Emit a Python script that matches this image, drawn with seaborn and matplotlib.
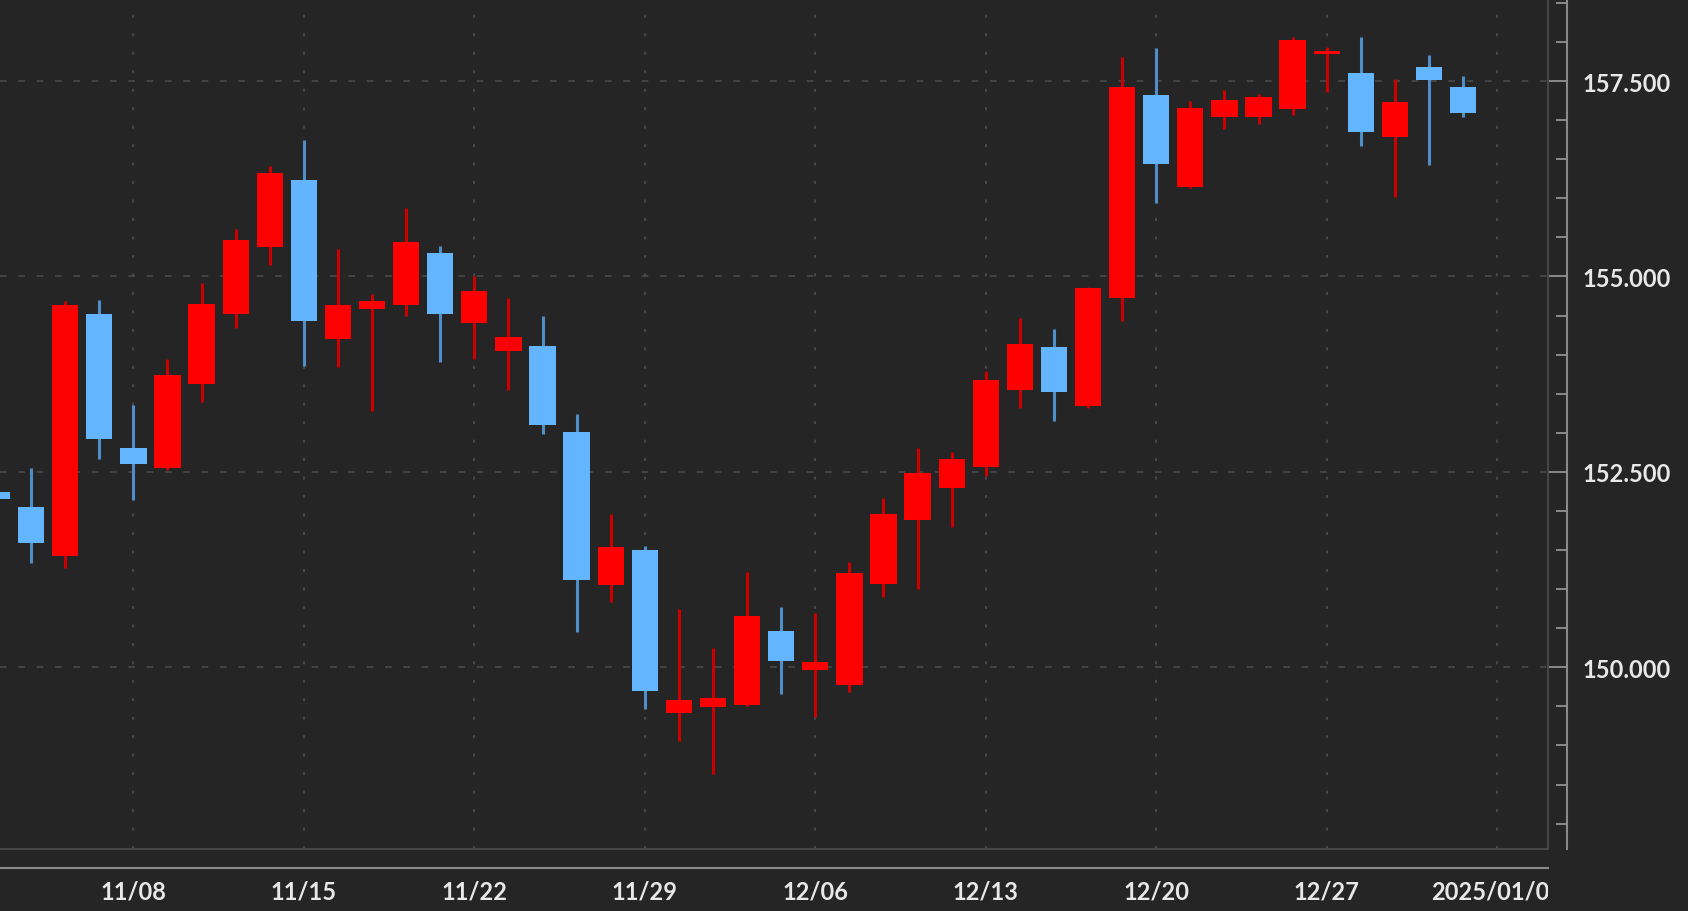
#!/usr/bin/env python3
'''
Daily candlestick chart (USD/JPY style), red = up day, blue = down day.
'''

import matplotlib
matplotlib.use('Agg')
import matplotlib.ticker as mticker
from matplotlib import pyplot as plt
from matplotlib.transforms import Bbox, TransformedBbox
import seaborn as sb
import pandas as pd

# trading days shown (weekdays only)
dates = [
    '2024-11-04', '2024-11-05', '2024-11-06', '2024-11-07', '2024-11-08',
    '2024-11-11', '2024-11-12', '2024-11-13', '2024-11-14', '2024-11-15',
    '2024-11-18', '2024-11-19', '2024-11-20', '2024-11-21', '2024-11-22',
    '2024-11-25', '2024-11-26', '2024-11-27', '2024-11-28', '2024-11-29',
    '2024-12-02', '2024-12-03', '2024-12-04', '2024-12-05', '2024-12-06',
    '2024-12-09', '2024-12-10', '2024-12-11', '2024-12-12', '2024-12-13',
    '2024-12-16', '2024-12-17', '2024-12-18', '2024-12-19', '2024-12-20',
    '2024-12-23', '2024-12-24', '2024-12-25', '2024-12-26', '2024-12-27',
    '2024-12-30', '2024-12-31', '2025-01-01', '2025-01-02',
]
opens = [
    152.24, 152.05, 151.43, 154.52, 152.80,
    152.55, 153.62, 154.52, 155.38, 156.24,
    154.20, 154.58, 154.64, 155.30, 154.41,
    154.05, 154.11, 153.01, 151.05, 151.50,
    149.41, 149.49, 149.52, 150.46, 149.96,
    149.77, 151.07, 151.89, 152.30, 152.56,
    153.55, 154.10, 153.34, 154.73, 157.32,
    156.15, 157.04, 157.04, 157.14, 157.84,
    157.60, 156.79, 157.68, 157.43,
]
highs = [
    152.30, 152.55, 154.68, 154.70, 153.36,
    153.94, 154.92, 155.61, 156.41, 156.75,
    155.35, 154.78, 155.87, 155.39, 155.00,
    154.72, 154.49, 153.24, 151.96, 151.55,
    150.75, 150.25, 151.22, 150.77, 150.70,
    151.35, 152.17, 152.81, 152.76, 153.79,
    154.47, 154.33, 154.86, 157.81, 157.92,
    157.25, 157.38, 157.34, 158.07, 157.94,
    158.07, 157.53, 157.83, 157.56,
]
lows = [
    152.10, 151.33, 151.27, 152.67, 152.14,
    152.53, 153.40, 154.34, 155.15, 153.85,
    153.84, 153.28, 154.49, 153.90, 153.94,
    153.55, 152.98, 150.45, 150.83, 149.46,
    149.06, 148.64, 149.50, 149.66, 149.36,
    149.69, 150.90, 151.00, 151.80, 152.45,
    153.32, 153.15, 153.32, 154.43, 155.94,
    156.13, 156.89, 156.95, 157.06, 157.36,
    156.67, 156.02, 156.43, 157.04,
]
closes = [
    152.15, 151.59, 154.64, 152.92, 152.60,
    153.74, 154.65, 155.47, 156.32, 154.43,
    154.64, 154.68, 155.44, 154.52, 154.81,
    154.23, 153.10, 151.12, 151.54, 149.70,
    149.58, 149.61, 150.65, 150.08, 150.07,
    151.21, 151.96, 152.49, 152.66, 153.68,
    154.14, 153.52, 154.85, 157.43, 156.44,
    157.16, 157.26, 157.30, 158.03, 157.88,
    156.85, 157.23, 157.52, 157.09,
]

# weekly labels (Fridays) and price labels
week_labels = ['11/08', '11/15', '11/22', '11/29', '12/06',
               '12/13', '12/20', '12/27', '2025/01/03']
price_ticks = [150.0, 152.5, 155.0, 157.5]

BG = '#252525'
UP_BODY, UP_WICK = '#ff0000', '#cc0000'
DOWN_BODY, DOWN_WICK = '#63b5ff', '#4f8fc9'
AXIS_COLOR = '#8a8a8a'
GRID_COLOR = '#4a4a4a'
TEXT_COLOR = '#e8e8e8'


def main():
    sb.set_theme(style='dark', rc={
        'axes.facecolor': BG,
        'figure.facecolor': BG,
        'savefig.facecolor': BG,
    })
    plt.rcParams['font.family'] = ['Lato', 'DejaVu Sans']

    # x axis is a trading-day index, weekends skipped
    calendar = pd.bdate_range('2024-11-04', '2025-01-03')
    df = pd.DataFrame({'date': pd.to_datetime(dates), 'open': opens,
                       'high': highs, 'low': lows, 'close': closes})
    df['pos'] = calendar.get_indexer(df['date'])
    df['up'] = df['close'] >= df['open']
    df['bottom'] = df[['open', 'close']].min(axis=1)
    df['height'] = (df['close'] - df['open']).abs()

    fig = plt.figure(figsize=(16.88, 9.12), dpi=100)
    ax = fig.add_axes([0, 62 / 912, 1548 / 1688, 850 / 912])

    # wicks then bodies
    ax.vlines(df['pos'], df['low'], df['high'],
              colors=[UP_WICK if u else DOWN_WICK for u in df['up']],
              linewidth=2.2, zorder=2)
    ax.bar(df['pos'], df['height'], bottom=df['bottom'], width=0.77,
           color=[UP_BODY if u else DOWN_BODY for u in df['up']],
           linewidth=0, zorder=3)

    ax.set_xlim(0.088, 45.49)
    ax.set_ylim(147.675, 158.55)

    fridays = [i for i, d in enumerate(calendar) if d.weekday() == 4]
    ax.set_xticks(fridays)
    ax.set_xticklabels(week_labels)
    ax.xaxis.set_minor_locator(mticker.FixedLocator(range(len(calendar) + 1)))
    ax.set_yticks(price_ticks)
    ax.yaxis.set_major_formatter(mticker.StrMethodFormatter('{x:.3f}'))
    ax.yaxis.set_minor_locator(mticker.MultipleLocator(0.5))

    # separate axis lines sitting outside the plot frame
    sb.despine(ax=ax, left=True, top=True, right=False, bottom=False, offset=14)
    ax.yaxis.tick_right()
    for side in ('right', 'bottom'):
        ax.spines[side].set_color(AXIS_COLOR)
        ax.spines[side].set_linewidth(1.5)

    ax.tick_params(axis='both', which='both', direction='in', color=AXIS_COLOR,
                   width=1.4, labelcolor=TEXT_COLOR, labelsize=17)
    ax.tick_params(axis='x', which='major', length=14.5, pad=8)
    ax.tick_params(axis='x', which='minor', length=8)
    ax.tick_params(axis='y', which='major', length=14, pad=11)
    ax.tick_params(axis='y', which='minor', length=8)
    for lbl in ax.get_xticklabels() + ax.get_yticklabels():
        lbl.set_fontweight('bold')

    # plot frame on the bottom and right edges
    ax.plot([0, 1], [0, 0], transform=ax.transAxes, color='#464646',
            linewidth=1.5, clip_on=False, zorder=1)
    ax.plot([1, 1], [0, 1], transform=ax.transAxes, color='#464646',
            linewidth=1.5, clip_on=False, zorder=1)

    ax.grid(True, axis='y', which='major', color=GRID_COLOR,
            linestyle=(0, (4, 7)), linewidth=1.2)
    ax.grid(True, axis='x', which='major', color=GRID_COLOR,
            linestyle=(0, (1.5, 8)), linewidth=1.4)
    ax.set_axisbelow(True)

    # last date label is cut off at the right edge of the plot
    clip = TransformedBbox(Bbox([[0, -1], [1, 1]]), ax.transAxes)
    for lbl in ax.get_xticklabels():
        lbl.set_clip_box(clip)
        lbl.set_clip_on(True)

    fig.savefig('out.png', dpi=100)


if __name__ == '__main__':
    main()
